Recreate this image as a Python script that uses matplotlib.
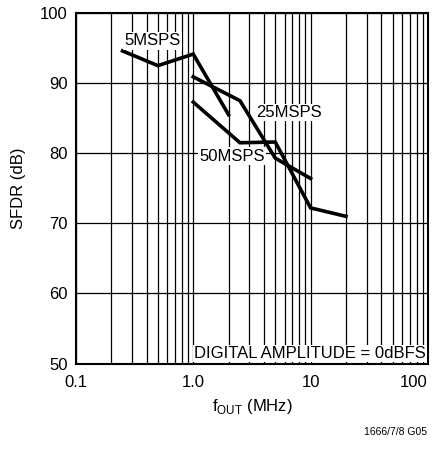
import matplotlib
matplotlib.use("Agg")
import matplotlib.pyplot as plt
from matplotlib.ticker import FixedLocator, NullFormatter, LogLocator

plt.rcParams['font.family'] = ['Liberation Sans', 'DejaVu Sans']

# SFDR vs output frequency at three sample rates
f_5msps = [0.25, 0.5, 1.0, 2.0]
sfdr_5msps = [94.6, 92.5, 94.15, 85.5]

f_25msps = [1.0, 2.5, 5.0, 10.0]
sfdr_25msps = [90.9, 87.5, 79.3, 76.4]

f_50msps = [1.0, 2.5, 5.0, 10.0, 20.0]
sfdr_50msps = [87.3, 81.5, 81.6, 72.2, 71.0]

x_ticks = [0.1, 1.0, 10, 100]
x_tick_labels = ["0.1", "1.0", "10", "100"]
y_ticks = [50, 60, 70, 80, 90, 100]

FS = 12

fig = plt.figure(figsize=(4.41, 4.51), dpi=100)
ax = fig.add_axes([0.172, 0.194, 0.7985, 0.777])

ax.set_xscale('log')
ax.set_xlim(0.1, 100)
ax.set_ylim(50, 100)

ax.xaxis.set_major_locator(FixedLocator(x_ticks))
ax.set_xticklabels(x_tick_labels)
ax.xaxis.set_minor_locator(LogLocator(base=10, subs=range(2, 10)))
ax.xaxis.set_minor_formatter(NullFormatter())
ax.set_yticks(y_ticks)

ax.grid(True, which='both', axis='x', color='black', linewidth=0.9)
ax.grid(True, which='major', axis='y', color='black', linewidth=0.9)
ax.tick_params(which='both', length=0, labelsize=FS)
ax.tick_params(axis='x', pad=8)
ax.tick_params(axis='y', pad=6)
ax.get_xticklabels()[-1].set_horizontalalignment('right')
for s in ax.spines.values():
    s.set_linewidth(1.5)

for f, v in [(f_5msps, sfdr_5msps), (f_25msps, sfdr_25msps), (f_50msps, sfdr_50msps)]:
    ax.plot(f, v, color='black', linewidth=2.6, solid_joinstyle='miter', zorder=3)

box = dict(facecolor='white', edgecolor='none', pad=1)
ax.text(0.257, 95.4, "5MSPS", fontsize=FS, ha='left', va='baseline', bbox=box, zorder=4)
ax.text(3.45, 85.8, "25MSPS", fontsize=FS, ha='left', va='center', bbox=box, zorder=4)
ax.text(1.13, 79.6, "50MSPS", fontsize=FS, ha='left', va='center', bbox=box, zorder=4)
ax.text(96, 50.8, "DIGITAL AMPLITUDE = 0dBFS", fontsize=FS, ha='right', va='baseline',
        bbox=box, zorder=4)

ax.set_ylabel("SFDR (dB)", fontsize=FS, labelpad=10)
ax.set_xlabel(r"f$_{\mathregular{OUT}}$ (MHz)", fontsize=FS, labelpad=5)

fig.text(0.968, 0.03, "1666/7/8 G05", fontsize=7.5, ha='right', va='bottom')

fig.savefig("out.png", dpi=100)
